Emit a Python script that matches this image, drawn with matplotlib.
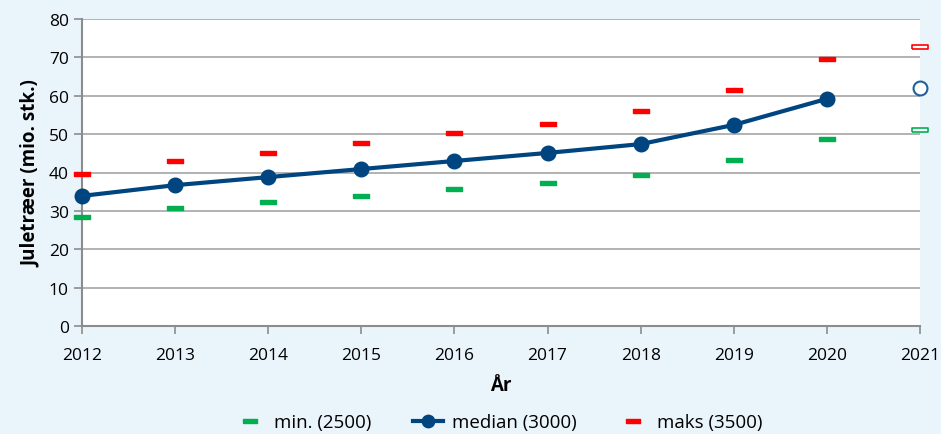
import matplotlib.pyplot as plt

years = [2012, 2013, 2014, 2015, 2016, 2017, 2018, 2019, 2020]
median = [33.9, 36.7, 38.8, 40.9, 43.0, 45.1, 47.4, 52.4, 59.2]
min_vals = [28.4, 30.7, 32.3, 33.9, 35.7, 37.3, 39.3, 43.3, 48.7]
max_vals = [39.6, 43.0, 45.1, 47.7, 50.3, 52.6, 56.0, 61.5, 69.6]

# prognose 2021 (hule markører)
year_2021 = 2021
median_2021 = 62.0
min_2021 = 51.1
max_2021 = 72.7

plt.rcParams['font.family'] = ['Open Sans', 'DejaVu Sans']

bg = '#EAF4FB'
blue = '#00457F'
green = '#00B050'
red = '#FF0000'

fig = plt.figure(figsize=(9.41, 4.35), dpi=100, facecolor=bg)
ax = fig.add_axes([82 / 941, 1 - 327 / 435, (920 - 82) / 941, (327 - 20) / 435])
ax.set_facecolor('white')

dash = [(-1, -0.22), (1, -0.22), (1, 0.22), (-1, 0.22), (-1, -0.22)]

ax.plot(years, min_vals, linestyle='none', marker=dash, markersize=12,
        color=green, label='min. (2500)', zorder=3, clip_on=False)
ax.plot(years, median, color=blue, lw=3, marker='o', markersize=10.5,
        label='median (3000)', zorder=4, clip_on=False)
ax.plot(years, max_vals, linestyle='none', marker=dash, markersize=12,
        color=red, label='maks (3500)', zorder=3, clip_on=False)

ax.plot([year_2021], [min_2021], linestyle='none', marker=dash, markersize=12,
        mfc='white', mec=green, mew=1.2, clip_on=False, zorder=5)
ax.plot([year_2021], [max_2021], linestyle='none', marker=dash, markersize=12,
        mfc='white', mec=red, mew=1.2, clip_on=False, zorder=5)
ax.plot([year_2021], [median_2021], linestyle='none', marker='o', markersize=10,
        mfc='white', mec='#1F5F9F', mew=1.5, clip_on=False, zorder=5)

ax.set_xlim(2012, 2021)
ax.set_ylim(0, 80)
ax.set_xticks(range(2012, 2022))
ax.set_yticks(range(0, 81, 10))
ax.yaxis.grid(True, color='#A6A6A6', lw=1.2)
ax.set_axisbelow(True)
for s in ['top', 'right']:
    ax.spines[s].set_visible(False)
for s in ['left', 'bottom']:
    ax.spines[s].set_color('#8C8C8C')
    ax.spines[s].set_linewidth(1.5)
ax.tick_params(axis='both', direction='out', length=6, color='#8C8C8C',
               labelsize=12.5, width=1.2)
ax.tick_params(axis='x', pad=9)

ax.set_xlabel('År', fontsize=13.5, fontweight='bold', labelpad=9)
ax.set_ylabel('Juletræer (mio. stk.)', fontsize=13.5, fontweight='bold', labelpad=6)

handles, labels = ax.get_legend_handles_labels()
leg = fig.legend(handles, labels, loc='lower center', bbox_to_anchor=(0.53, 0.0),
                 ncol=3, frameon=False, fontsize=13.5, handlelength=1.6,
                 columnspacing=2.2, handletextpad=0.5, markerscale=0.85,
                 borderpad=0.15, borderaxespad=0.0)

fig.savefig('out.png', dpi=100, facecolor=bg)
